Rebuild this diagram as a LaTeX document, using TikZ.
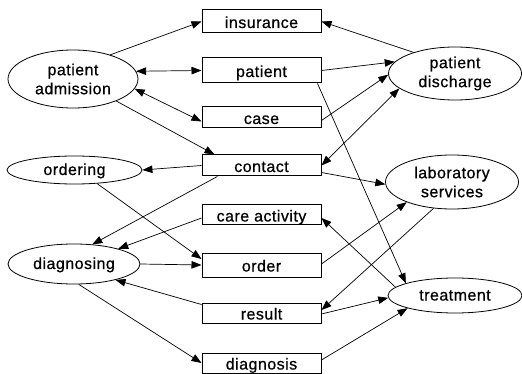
\documentclass[tikz,border=0pt]{standalone}
\usepackage{fontspec}
\setmainfont{Liberation Sans}[LetterSpace=3.0,FakeBold=0.6]
\usetikzlibrary{arrows.meta,shapes.geometric}
\begin{document}
\begin{tikzpicture}[x=1pt,y=-1pt,
  every node/.style={font=\fontsize{16}{19}\selectfont},
  ent/.style={draw,line width=1pt,rectangle,minimum width=119pt,minimum height=21pt,inner sep=0pt,text height=15pt,text depth=2pt},
  proc/.style={draw,line width=0.8pt,ellipse,inner sep=0pt},
  proc1/.style={proc,text height=12pt,text depth=2pt},
  proc2/.style={proc,align=center},
  arr/.style={line width=0.7pt,-{Triangle[length=10pt,width=7.5pt]}},
  barr/.style={line width=0.7pt,{Triangle[length=10pt,width=7.5pt]}-{Triangle[length=10pt,width=7.5pt]}}]
\useasboundingbox (0,0) rectangle (522,374);
% entity boxes
\node[ent,minimum height=23pt] (ins) at (261.5,21.5) {insurance};
\node[ent,minimum height=25pt] (pat) at (261.5,70.5) {patient};
\node[ent] (case) at (261.5,117.5) {case};
\node[ent] (cont) at (261.5,165.5) {contact};
\node[ent,minimum height=20pt] (care) at (261.5,215) {care activity};
\node[ent,minimum height=24pt] (order) at (261.5,265) {order};
\node[ent,minimum height=20pt] (res) at (261.5,313) {result};
\node[ent,minimum height=20pt] (dgn) at (261.5,363) {diagnosis};
% process ellipses
\node[proc2,minimum width=130pt,minimum height=58pt] (padm) at (73,79) {patient\\admission};
\node[proc1,minimum width=135pt,minimum height=28pt] (ord) at (74.5,170) {ordering};
\node[proc1,minimum width=132pt,minimum height=40pt] (diag) at (74,264) {diagnosing};
\node[proc2,minimum width=133pt,minimum height=53pt] (pdis) at (455,73.5) {patient\\discharge};
\node[proc2,minimum width=133pt,minimum height=54pt] (lab) at (452,182) {laboratory\\services};
\node[proc1,minimum width=134pt,minimum height=35pt] (treat) at (455,295.5) {treatment};
% connectors
\draw[arr] (padm.33) -- (ins.west);
\draw[barr] (padm.7) -- (pat.west);
\draw[barr] (padm.-9) -- ([yshift=-4pt]case.west);
\draw[arr] (padm.-27) -- ([xshift=13pt]cont.north west);
\draw[arr] (pdis.153) -- (ins.east);
\draw[arr] (pat.east) -- (pdis.169);
\draw[arr] ([yshift=-3pt]case.east) -- (pdis.181);
\draw[barr] (cont.east) -- (pdis.195);
\draw[arr] (cont.west) -- (ord.east);
\draw[arr] ([yshift=-7pt]cont.east) -- (lab.182);
\draw[arr] (cont.194) -- (diag.47);
\draw[arr] (ord.-31) -- ([yshift=6pt]order.west);
\draw[arr] ([yshift=-3pt]care.west) -- (diag.19);
\draw[arr] (diag.east) -- (order.west);
\draw[arr] ([yshift=-2pt]res.north west) -- (diag.-21);
\draw[arr] (diag.-77) -- (dgn.west);
\draw[arr] ([yshift=1pt]order.east) -- (lab.204);
\draw[arr] (lab.235) -- ([yshift=3pt]res.east);
\draw[arr] ([xshift=-4pt]pat.south east) -- (treat.166);
\draw[arr] (treat.172) -- ([yshift=-3pt]care.east);
\draw[arr] ([yshift=-1pt]res.east) -- (treat.182);
\draw[arr] ([yshift=3pt]dgn.east) -- (treat.195);
\end{tikzpicture}
\end{document}
